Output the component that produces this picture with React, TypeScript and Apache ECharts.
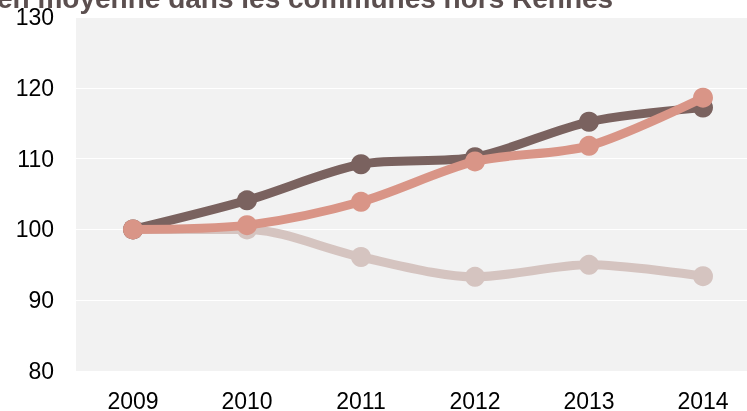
import React, { useEffect, useRef } from "react";
import * as echarts from "echarts";

const years = ["2009", "2010", "2011", "2012", "2013", "2014"];
const seriesLight = [100, 100.0, 96.1, 93.3, 95.0, 93.4];
const seriesDark = [100, 104.1, 109.2, 110.2, 115.2, 117.2];
const seriesSalmon = [100, 100.6, 103.9, 109.6, 111.8, 118.6];
const titleText = "en moyenne dans les communes hors Rennes";

export default function App() {
  const ref = useRef<HTMLDivElement>(null);
  useEffect(() => {
    if (!ref.current) return;
    const chart = echarts.init(ref.current, undefined, { renderer: "svg" });
    const mk = (name: string, data: number[], color: string, z: number) => ({
      name,
      type: "line",
      data,
      smooth: 0.3,
      symbol: "circle",
      symbolSize: 20,
      z,
      lineStyle: { color, width: 9 },
      itemStyle: { color },
    });
    chart.setOption({
      animation: false,
      grid: {
        left: 76,
        top: 17,
        height: 354,
        width: 684,
        show: true,
        backgroundColor: "#f2f2f2",
        borderWidth: 0,
        containLabel: false,
        outerBoundsMode: "none",
      },
      xAxis: {
        type: "category",
        data: years,
        boundaryGap: true,
        axisLine: { show: false },
        axisTick: { show: false },
        axisLabel: {
          color: "#000",
          fontSize: 23,
          fontFamily: "Liberation Sans, Arial, sans-serif",
          margin: 18,
        },
      },
      yAxis: {
        type: "value",
        min: 80,
        max: 130,
        interval: 10,
        axisLine: { show: false },
        axisTick: { show: false },
        splitLine: { lineStyle: { color: "#ffffff", width: 1 } },
        axisLabel: {
          color: "#000",
          fontSize: 23,
          fontFamily: "Liberation Sans, Arial, sans-serif",
          margin: 22,
        },
      },
      graphic: [
        {
          type: "text",
          left: -3,
          top: -16,
          style: {
            text: titleText,
            fill: "#5b4f4f",
            font: "bold 28px 'Liberation Sans', Arial, sans-serif",
          },
        },
      ],
      series: [
        mk("light", seriesLight, "#d5c4c0", 1),
        mk("dark", seriesDark, "#7a625f", 2),
        mk("salmon", seriesSalmon, "#d99587", 3),
      ],
    });
    return () => chart.dispose();
  }, []);
  return (
    <div
      ref={ref}
      style={{ position: "fixed", left: 0, top: 0, width: 747, height: 411 }}
    />
  );
}
